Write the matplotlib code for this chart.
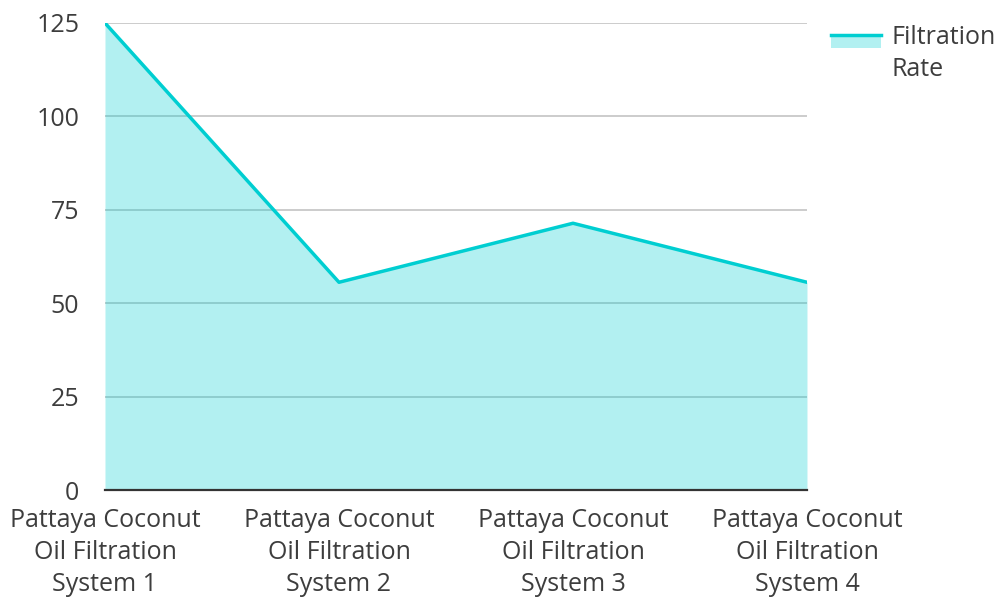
import matplotlib.pyplot as plt
from matplotlib.legend_handler import HandlerBase
from matplotlib.patches import Rectangle
from matplotlib.lines import Line2D

plt.rcParams['font.family'] = ['Open Sans', 'DejaVu Sans']

systems = ["Pattaya Coconut\nOil Filtration\nSystem 1",
           "Pattaya Coconut\nOil Filtration\nSystem 2",
           "Pattaya Coconut\nOil Filtration\nSystem 3",
           "Pattaya Coconut\nOil Filtration\nSystem 4"]
rate = [125, 55.6, 71.4, 55.6]
yticks = [0, 25, 50, 75, 100, 125]

line_c = "#00CED1"
text_c = "#3d3d3d"


class AreaHandler(HandlerBase):
    # filled patch with the line along its top edge, level with the first text line
    def create_artists(self, legend, orig, xd, yd, w, h, fs, trans):
        top = yd + h * 0.8 + 9.4
        r = Rectangle((xd, top - 9.5), w, 9.5, facecolor=line_c, alpha=0.3,
                      edgecolor="none", transform=trans)
        l = Line2D([xd, xd + w], [top, top], color=line_c,
                   lw=2.5, transform=trans)
        return [r, l]


fig = plt.figure(figsize=(9.97, 5.97), dpi=100)
ax = fig.add_axes([0.1053, 0.1792, 0.7041, 0.7823])

x = range(len(rate))
ax.fill_between(x, rate, 0, color=line_c, alpha=0.3, lw=0, zorder=3)
ln, = ax.plot(x, rate, color=line_c, lw=2.5, zorder=4)

ax.set_xlim(0, 3)
ax.set_ylim(0, 125)
ax.set_yticks(yticks)
ax.set_xticks(list(x))
ax.set_xticklabels(systems)
ax.grid(axis="y", color="#c4c4c4", lw=1.2, zorder=1)
ax.set_axisbelow(True)
for s in ["top", "right", "left"]:
    ax.spines[s].set_visible(False)
ax.spines["bottom"].set_color("#333333")
ax.spines["bottom"].set_linewidth(1.6)
ax.spines["bottom"].set_zorder(5)
ax.tick_params(axis="both", length=0, labelsize=18, colors=text_c)
ax.tick_params(axis="y", pad=18.5)
ax.tick_params(axis="x", pad=13)
for t in ax.get_xticklabels():
    t.set_linespacing(1.36)

leg = fig.legend([ln], ["Filtration\nRate"], handler_map={ln: AreaHandler()},
                 loc="upper left", bbox_to_anchor=(0.834, 0.958), frameon=False,
                 fontsize=18, labelcolor=text_c, handlelength=2.0,
                 handleheight=0.75, handletextpad=0.42, borderaxespad=0,
                 borderpad=0)
for t in leg.get_texts():
    t.set_linespacing(1.36)

fig.savefig("out.png", dpi=100)
